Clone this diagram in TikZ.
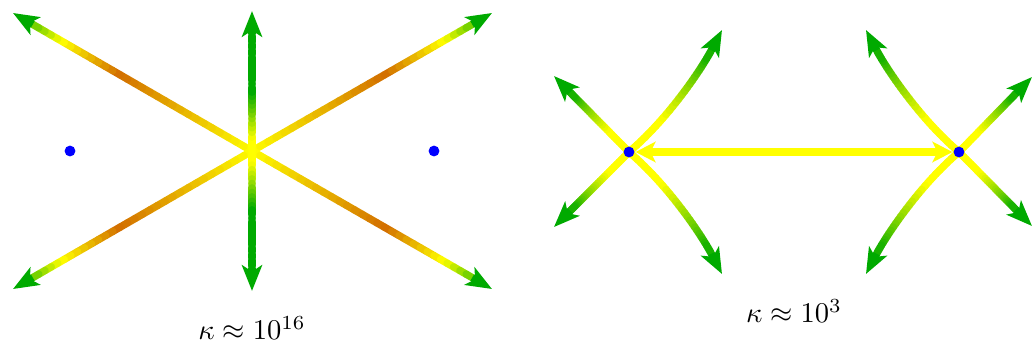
\documentclass[tikz,border=0pt]{standalone}
\usepackage{tikz}
\usetikzlibrary{arrows.meta,calc}
\definecolor{leaf}{RGB}{0,170,0}
\definecolor{rust}{RGB}{210,110,0}
\definecolor{lemon}{RGB}{255,255,0}
\definecolor{dotblue}{RGB}{0,0,255}
\colorlet{armc}{lemon}
\newcommand\tiplen{8pt}
\newcommand\armsteps{30}
% colour profiles along an arm, t from hub (0) to shaft end (1)
\newcommand\profdiag[1]{%
  \ifdim#1pt<0.58pt
    \pgfmathsetmacro\pc{#1/0.58*100}\colorlet{armc}{rust!\pc!lemon}%
  \else\ifdim#1pt<0.86pt
    \pgfmathsetmacro\pc{(0.86-#1)/0.28*100}\colorlet{armc}{rust!\pc!lemon}%
  \else
    \pgfmathsetmacro\pc{(#1-0.86)/0.14*60}\colorlet{armc}{leaf!\pc!lemon}%
  \fi\fi}
\newcommand\profvert[1]{%
  \ifdim#1pt<0.1pt \colorlet{armc}{lemon}%
  \else\ifdim#1pt<0.45pt
    \pgfmathsetmacro\pc{(#1-0.1)/0.35*100}\colorlet{armc}{leaf!\pc!lemon}%
  \else \colorlet{armc}{leaf}%
  \fi\fi}
\newcommand\profside[1]{%
  \ifdim#1pt<0.3pt \colorlet{armc}{lemon}%
  \else\ifdim#1pt<0.88pt
    \pgfmathsetmacro\pc{(#1-0.3)/0.58*90}\colorlet{armc}{leaf!\pc!lemon}%
  \else \colorlet{armc}{leaf!90!lemon}%
  \fi\fi}
% point of a cubic curve (de Casteljau)
\newcommand\bezpt[6]{%
  \coordinate (bzA) at ($(#3)!#2!(#4)$);
  \coordinate (bzB) at ($(#4)!#2!(#5)$);
  \coordinate (bzC) at ($(#5)!#2!(#6)$);
  \coordinate (bzD) at ($(bzA)!#2!(bzB)$);
  \coordinate (bzE) at ($(bzB)!#2!(bzC)$);
  \coordinate (#1) at ($(bzD)!#2!(bzE)$);}
% shaded arm: profile, hub, control, control, tip
\newcommand\gradarm[5]{%
  \coordinate (armS) at ($(#5)!\tiplen!(#4)$);
  \foreach \i in {1,...,\armsteps}{
    \pgfmathsetmacro\ta{(\i-1)/\armsteps}
    \pgfmathsetmacro\tb{\i/\armsteps}
    \pgfmathsetmacro\tm{(\i-0.5)/\armsteps}
    \bezpt{armP}{\ta}{#2}{#3}{#4}{armS}
    \bezpt{armQ}{\tb}{#2}{#3}{#4}{armS}
    #1{\tm}
    \draw[armline,draw=armc] (armP) -- (armQ);
  }
  \draw[armtip] (armS) -- (#5);}
\newcommand\gradline[3]{%
  \coordinate (lnA) at ($(#2)!1/3!(#3)$);
  \coordinate (lnB) at ($(#2)!2/3!(#3)$);
  \gradarm{#1}{#2}{lnA}{lnB}{#3}}

\begin{document}
\begin{tikzpicture}[x=0.35pt,y=-0.35pt,
    armline/.style={line width=2.6pt,line cap=round},
    armtip/.style={-{Stealth[length=9pt,width=7pt,inset=2.2pt]},leaf,line width=2.6pt},
    hbar/.style={{Stealth[length=7pt,width=7.2pt,inset=1.8pt]}-{Stealth[length=7pt,width=7.2pt,inset=1.8pt]},lemon,line width=3pt,shorten <=2.3pt,shorten >=2.3pt},
    spot/.style={circle,fill=dotblue,inner sep=0pt,minimum size=3.8pt},
    caption/.style={font=\normalsize}]
  \useasboundingbox (0,0) rectangle (1032,347);
  % left picture: one hub, six arms
  \coordinate (hub) at (252,151);
  \coordinate (tnw) at (13,13);  \coordinate (tne) at (492,13);
  \coordinate (tsw) at (13,289); \coordinate (tse) at (492,289);
  \coordinate (tn) at (252,11);  \coordinate (ts) at (252,291);
  \foreach \t in {tnw,tne,tsw,tse} \gradline{\profdiag}{hub}{\t};
  \foreach \t in {tn,ts} \gradline{\profvert}{hub}{\t};
  \node[spot] (pl) at (70,151) {};
  \node[spot] (pr) at (434,151) {};
  \node[caption] (kl) at (252,328) {$\kappa \approx 10^{16}$};
  % right picture: two hubs
  \coordinate (lhub) at (629,152);
  \coordinate (rhub) at (959,152);
  \coordinate (lnw) at (554,76);   \coordinate (lsw) at (554,227);
  \coordinate (rne) at (1032,77);  \coordinate (rse) at (1032,226);
  \foreach \t in {lnw,lsw} \gradline{\profside}{lhub}{\t};
  \foreach \t in {rne,rse} \gradline{\profside}{rhub}{\t};
  \coordinate (la1) at (669,118); \coordinate (la2) at (702,68);  \coordinate (lat) at (722,30);
  \coordinate (lb1) at (669,186); \coordinate (lb2) at (702,236); \coordinate (lbt) at (722,274);
  \coordinate (ra1) at (919,118); \coordinate (ra2) at (886,68);  \coordinate (rat) at (866,30);
  \coordinate (rb1) at (919,186); \coordinate (rb2) at (886,236); \coordinate (rbt) at (866,274);
  \gradarm{\profside}{lhub}{la1}{la2}{lat}
  \gradarm{\profside}{lhub}{lb1}{lb2}{lbt}
  \gradarm{\profside}{rhub}{ra1}{ra2}{rat}
  \gradarm{\profside}{rhub}{rb1}{rb2}{rbt}
  \draw[hbar] (lhub) -- (rhub);
  \node[spot] (dl) at (lhub) {};
  \node[spot] (dr) at (rhub) {};
  \node[caption] (kr) at (794,311) {$\kappa \approx 10^{3}$};
\end{tikzpicture}
\end{document}
